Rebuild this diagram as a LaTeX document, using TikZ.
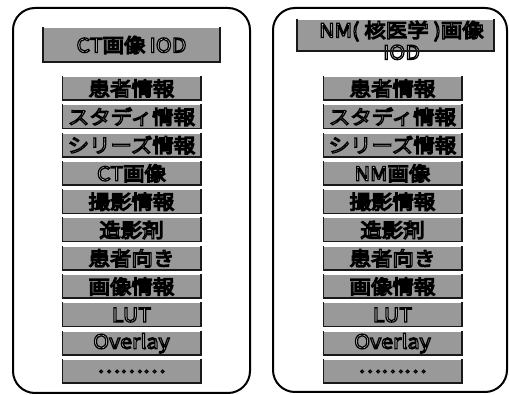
\documentclass[tikz,border=0pt]{standalone}
\usepackage{fontspec}
\newfontfamily\jp[FakeStretch=1.1]{Noto Sans CJK JP}
\newcommand{\outl}[1]{\special{pdf:literal direct 0 G 1.25 w 2 Tr}#1\special{pdf:literal direct 0 Tr}}
\begin{document}
\begin{tikzpicture}[x=1pt,y=-1pt,
  panel/.style={draw=black, line width=2pt, rounded corners=22pt},
  boxbase/.style={fill=black!40, inner sep=0pt, text=white,
    font=\jp\fontsize{19.5}{23}\selectfont},
  item/.style={boxbase, minimum width=138pt, minimum height=23pt},
  titlebox/.style={boxbase},
  edge/.style={draw=black!90, line width=1.6pt, line cap=rect}]
\useasboundingbox (0,0) rectangle (509,395);
% panels
\draw[panel] (13,8) rectangle (250,393);
\draw[panel] (273,8) rectangle (507,392);
% left title
\node[titlebox, minimum width=177pt, minimum height=34pt] (lt) at (131.5,45) {\outl{CT画像\hspace{4pt}IOD}};
\draw[edge] (lt.north west) -- (lt.south west) -- (lt.south east) -- (lt.north east);
% right title
\node[titlebox, minimum width=197pt, minimum height=31pt] (rt) at (395.5,35.5) {};
\node[boxbase, fill=none, align=center, anchor=north] (rtt) at ([xshift=6pt,yshift=-1pt]rt.north) {\outl{NM(\hspace{5pt}核医学\hspace{5pt})画像}\\[-1pt]\outl{IOD}};
\draw[edge] (rt.north west) -- (rt.south west) -- (rt.south east) -- (rt.north east);
% left items
\foreach \t [count=\i from 0] in {患者情報,スタディ情報,シリーズ情報,CT画像,撮影情報,造影剤,患者向き,画像情報,LUT,Overlay,………} {
  \node[item] (l\i) at (131.5,{88.5+28.3*\i}) {\outl{\t}};
  \draw[edge] (l\i.north west) -- (l\i.south west) -- (l\i.south east) -- (l\i.north east);
}
% right items
\foreach \t [count=\i from 0] in {患者情報,スタディ情報,シリーズ情報,NM画像,撮影情報,造影剤,患者向き,画像情報,LUT,Overlay,………} {
  \node[item] (r\i) at (392.5,{88.5+28.3*\i}) {\outl{\t}};
  \draw[edge] (r\i.north west) -- (r\i.south west) -- (r\i.south east) -- (r\i.north east);
}
\end{tikzpicture}
\end{document}
